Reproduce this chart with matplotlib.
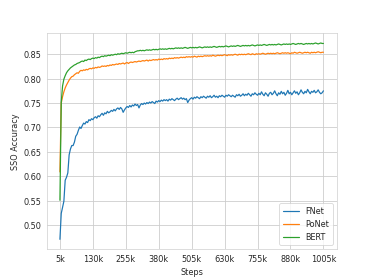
import numpy as np
import seaborn as sns
from matplotlib import pyplot as plt

sns.set_style("whitegrid")
plt.rcParams["grid.linewidth"] = 1

# training steps in thousands (every 5k from 5k to 1005k)
steps_k = list(range(5, 1006, 5))

fnet = [
    0.471, 0.524, 0.536, 0.549, 0.592, 0.598, 0.607, 0.644, 0.656, 0.663,
    0.663, 0.670, 0.682, 0.686, 0.694, 0.701, 0.698, 0.704, 0.709, 0.707,
    0.712, 0.710, 0.716, 0.714, 0.718, 0.716, 0.720, 0.722, 0.719, 0.724,
    0.722, 0.726, 0.729, 0.725, 0.730, 0.728, 0.733, 0.730, 0.732, 0.735,
    0.733, 0.737, 0.734, 0.738, 0.740, 0.737, 0.741, 0.738, 0.731, 0.736,
    0.740, 0.743, 0.741, 0.745, 0.742, 0.746, 0.744, 0.748, 0.745, 0.747,
    0.740, 0.746, 0.749, 0.747, 0.750, 0.748, 0.751, 0.749, 0.752, 0.750,
    0.753, 0.751, 0.749, 0.754, 0.752, 0.755, 0.753, 0.756, 0.754, 0.757,
    0.755, 0.757, 0.754, 0.758, 0.756, 0.759, 0.757, 0.755, 0.758, 0.760,
    0.757, 0.759, 0.761, 0.758, 0.760, 0.757, 0.759, 0.751, 0.756, 0.759,
    0.761, 0.758, 0.762, 0.760, 0.763, 0.761, 0.759, 0.763, 0.761, 0.764,
    0.762, 0.760, 0.764, 0.762, 0.765, 0.761, 0.763, 0.766, 0.762, 0.764,
    0.761, 0.765, 0.763, 0.766, 0.764, 0.762, 0.766, 0.764, 0.767, 0.765,
    0.763, 0.766, 0.764, 0.762, 0.767, 0.765, 0.768, 0.764, 0.766, 0.769,
    0.765, 0.768, 0.766, 0.770, 0.767, 0.764, 0.769, 0.767, 0.771, 0.768,
    0.766, 0.770, 0.767, 0.773, 0.768, 0.765, 0.771, 0.768, 0.764, 0.770,
    0.772, 0.767, 0.770, 0.775, 0.769, 0.765, 0.771, 0.768, 0.774, 0.769,
    0.772, 0.766, 0.770, 0.776, 0.769, 0.772, 0.767, 0.771, 0.775, 0.770,
    0.773, 0.767, 0.771, 0.777, 0.772, 0.769, 0.774, 0.771, 0.778, 0.773,
    0.769, 0.774, 0.772, 0.776, 0.771, 0.773, 0.777, 0.772, 0.769, 0.771,
    0.775,
]

ponet = [
    0.609, 0.750, 0.763, 0.773, 0.781, 0.787, 0.792, 0.797, 0.801, 0.804,
    0.805, 0.808, 0.810, 0.812, 0.811, 0.815, 0.817, 0.816, 0.818, 0.817,
    0.819, 0.818, 0.820, 0.821, 0.820, 0.822, 0.821, 0.823, 0.822, 0.824,
    0.823, 0.824, 0.826, 0.825, 0.826, 0.825, 0.827, 0.826, 0.828, 0.827,
    0.829, 0.828, 0.829, 0.830, 0.829, 0.831, 0.830, 0.831, 0.832, 0.830,
    0.832, 0.833, 0.831, 0.833, 0.834, 0.833, 0.834, 0.835, 0.834, 0.835,
    0.836, 0.835, 0.836, 0.837, 0.836, 0.837, 0.838, 0.836, 0.838, 0.837,
    0.838, 0.839, 0.838, 0.839, 0.838, 0.840, 0.839, 0.840, 0.839, 0.841,
    0.840, 0.841, 0.840, 0.842, 0.841, 0.842, 0.841, 0.843, 0.842, 0.843,
    0.842, 0.843, 0.844, 0.843, 0.844, 0.843, 0.845, 0.844, 0.845, 0.844,
    0.845, 0.844, 0.846, 0.845, 0.844, 0.846, 0.845, 0.846, 0.845, 0.846,
    0.847, 0.846, 0.847, 0.846, 0.847, 0.846, 0.848, 0.847, 0.846, 0.847,
    0.848, 0.847, 0.848, 0.847, 0.848, 0.849, 0.848, 0.847, 0.849, 0.848,
    0.849, 0.848, 0.849, 0.850, 0.849, 0.848, 0.850, 0.849, 0.850, 0.849,
    0.850, 0.849, 0.850, 0.851, 0.850, 0.849, 0.851, 0.850, 0.849, 0.851,
    0.850, 0.851, 0.850, 0.851, 0.852, 0.851, 0.850, 0.851, 0.852, 0.851,
    0.852, 0.851, 0.852, 0.851, 0.852, 0.853, 0.852, 0.851, 0.852, 0.853,
    0.852, 0.853, 0.852, 0.853, 0.852, 0.851, 0.853, 0.852, 0.854, 0.853,
    0.852, 0.853, 0.854, 0.853, 0.852, 0.853, 0.854, 0.853, 0.854, 0.853,
    0.852, 0.854, 0.853, 0.854, 0.853, 0.854, 0.855, 0.854, 0.853, 0.854,
    0.854,
]

bert = [
    0.551, 0.752, 0.785, 0.799, 0.806, 0.812, 0.816, 0.819, 0.822, 0.824,
    0.826, 0.828, 0.829, 0.831, 0.832, 0.833, 0.835, 0.836, 0.835, 0.838,
    0.837, 0.839, 0.840, 0.839, 0.841, 0.842, 0.841, 0.843, 0.842, 0.844,
    0.843, 0.845, 0.846, 0.845, 0.847, 0.846, 0.847, 0.848, 0.847, 0.849,
    0.848, 0.849, 0.850, 0.849, 0.851, 0.850, 0.851, 0.852, 0.851, 0.852,
    0.853, 0.852, 0.853, 0.854, 0.853, 0.854, 0.853, 0.855, 0.856, 0.857,
    0.857, 0.858, 0.857, 0.858, 0.857, 0.858, 0.859, 0.858, 0.859, 0.858,
    0.859, 0.860, 0.859, 0.860, 0.859, 0.860, 0.861, 0.860, 0.861, 0.860,
    0.861, 0.860, 0.861, 0.862, 0.861, 0.862, 0.861, 0.862, 0.863, 0.862,
    0.863, 0.862, 0.863, 0.862, 0.863, 0.864, 0.863, 0.862, 0.863, 0.864,
    0.863, 0.864, 0.863, 0.864, 0.863, 0.864, 0.865, 0.864, 0.863, 0.864,
    0.865, 0.864, 0.865, 0.864, 0.865, 0.864, 0.865, 0.866, 0.865, 0.864,
    0.865, 0.866, 0.865, 0.866, 0.865, 0.866, 0.867, 0.866, 0.865, 0.866,
    0.867, 0.866, 0.867, 0.866, 0.867, 0.868, 0.867, 0.866, 0.867, 0.868,
    0.867, 0.868, 0.867, 0.868, 0.867, 0.868, 0.869, 0.868, 0.867, 0.868,
    0.869, 0.868, 0.869, 0.868, 0.869, 0.870, 0.869, 0.868, 0.869, 0.870,
    0.869, 0.870, 0.869, 0.870, 0.869, 0.870, 0.871, 0.870, 0.869, 0.870,
    0.871, 0.870, 0.871, 0.870, 0.871, 0.870, 0.871, 0.872, 0.871, 0.870,
    0.871, 0.872, 0.871, 0.872, 0.871, 0.870, 0.871, 0.872, 0.871, 0.872,
    0.871, 0.872, 0.871, 0.872, 0.873, 0.872, 0.871, 0.872, 0.873, 0.872,
    0.872,
]

tick_steps = list(range(5, 1006, 125))
tick_labels = [f"{s}k" for s in tick_steps]

fig, ax = plt.subplots(figsize=(6.4, 4.8))
ax.plot(steps_k, fnet, label="FNet")
ax.plot(steps_k, ponet, label="PoNet")
ax.plot(steps_k, bert, label="BERT")

ax.set_xticks(tick_steps)
ax.set_xticklabels(tick_labels)
ax.set_xlabel("Steps")
ax.set_ylabel("SSO Accuracy")
ax.legend(loc="lower right", frameon=True)

fig.savefig("out.png", dpi=374 / 6.4)
